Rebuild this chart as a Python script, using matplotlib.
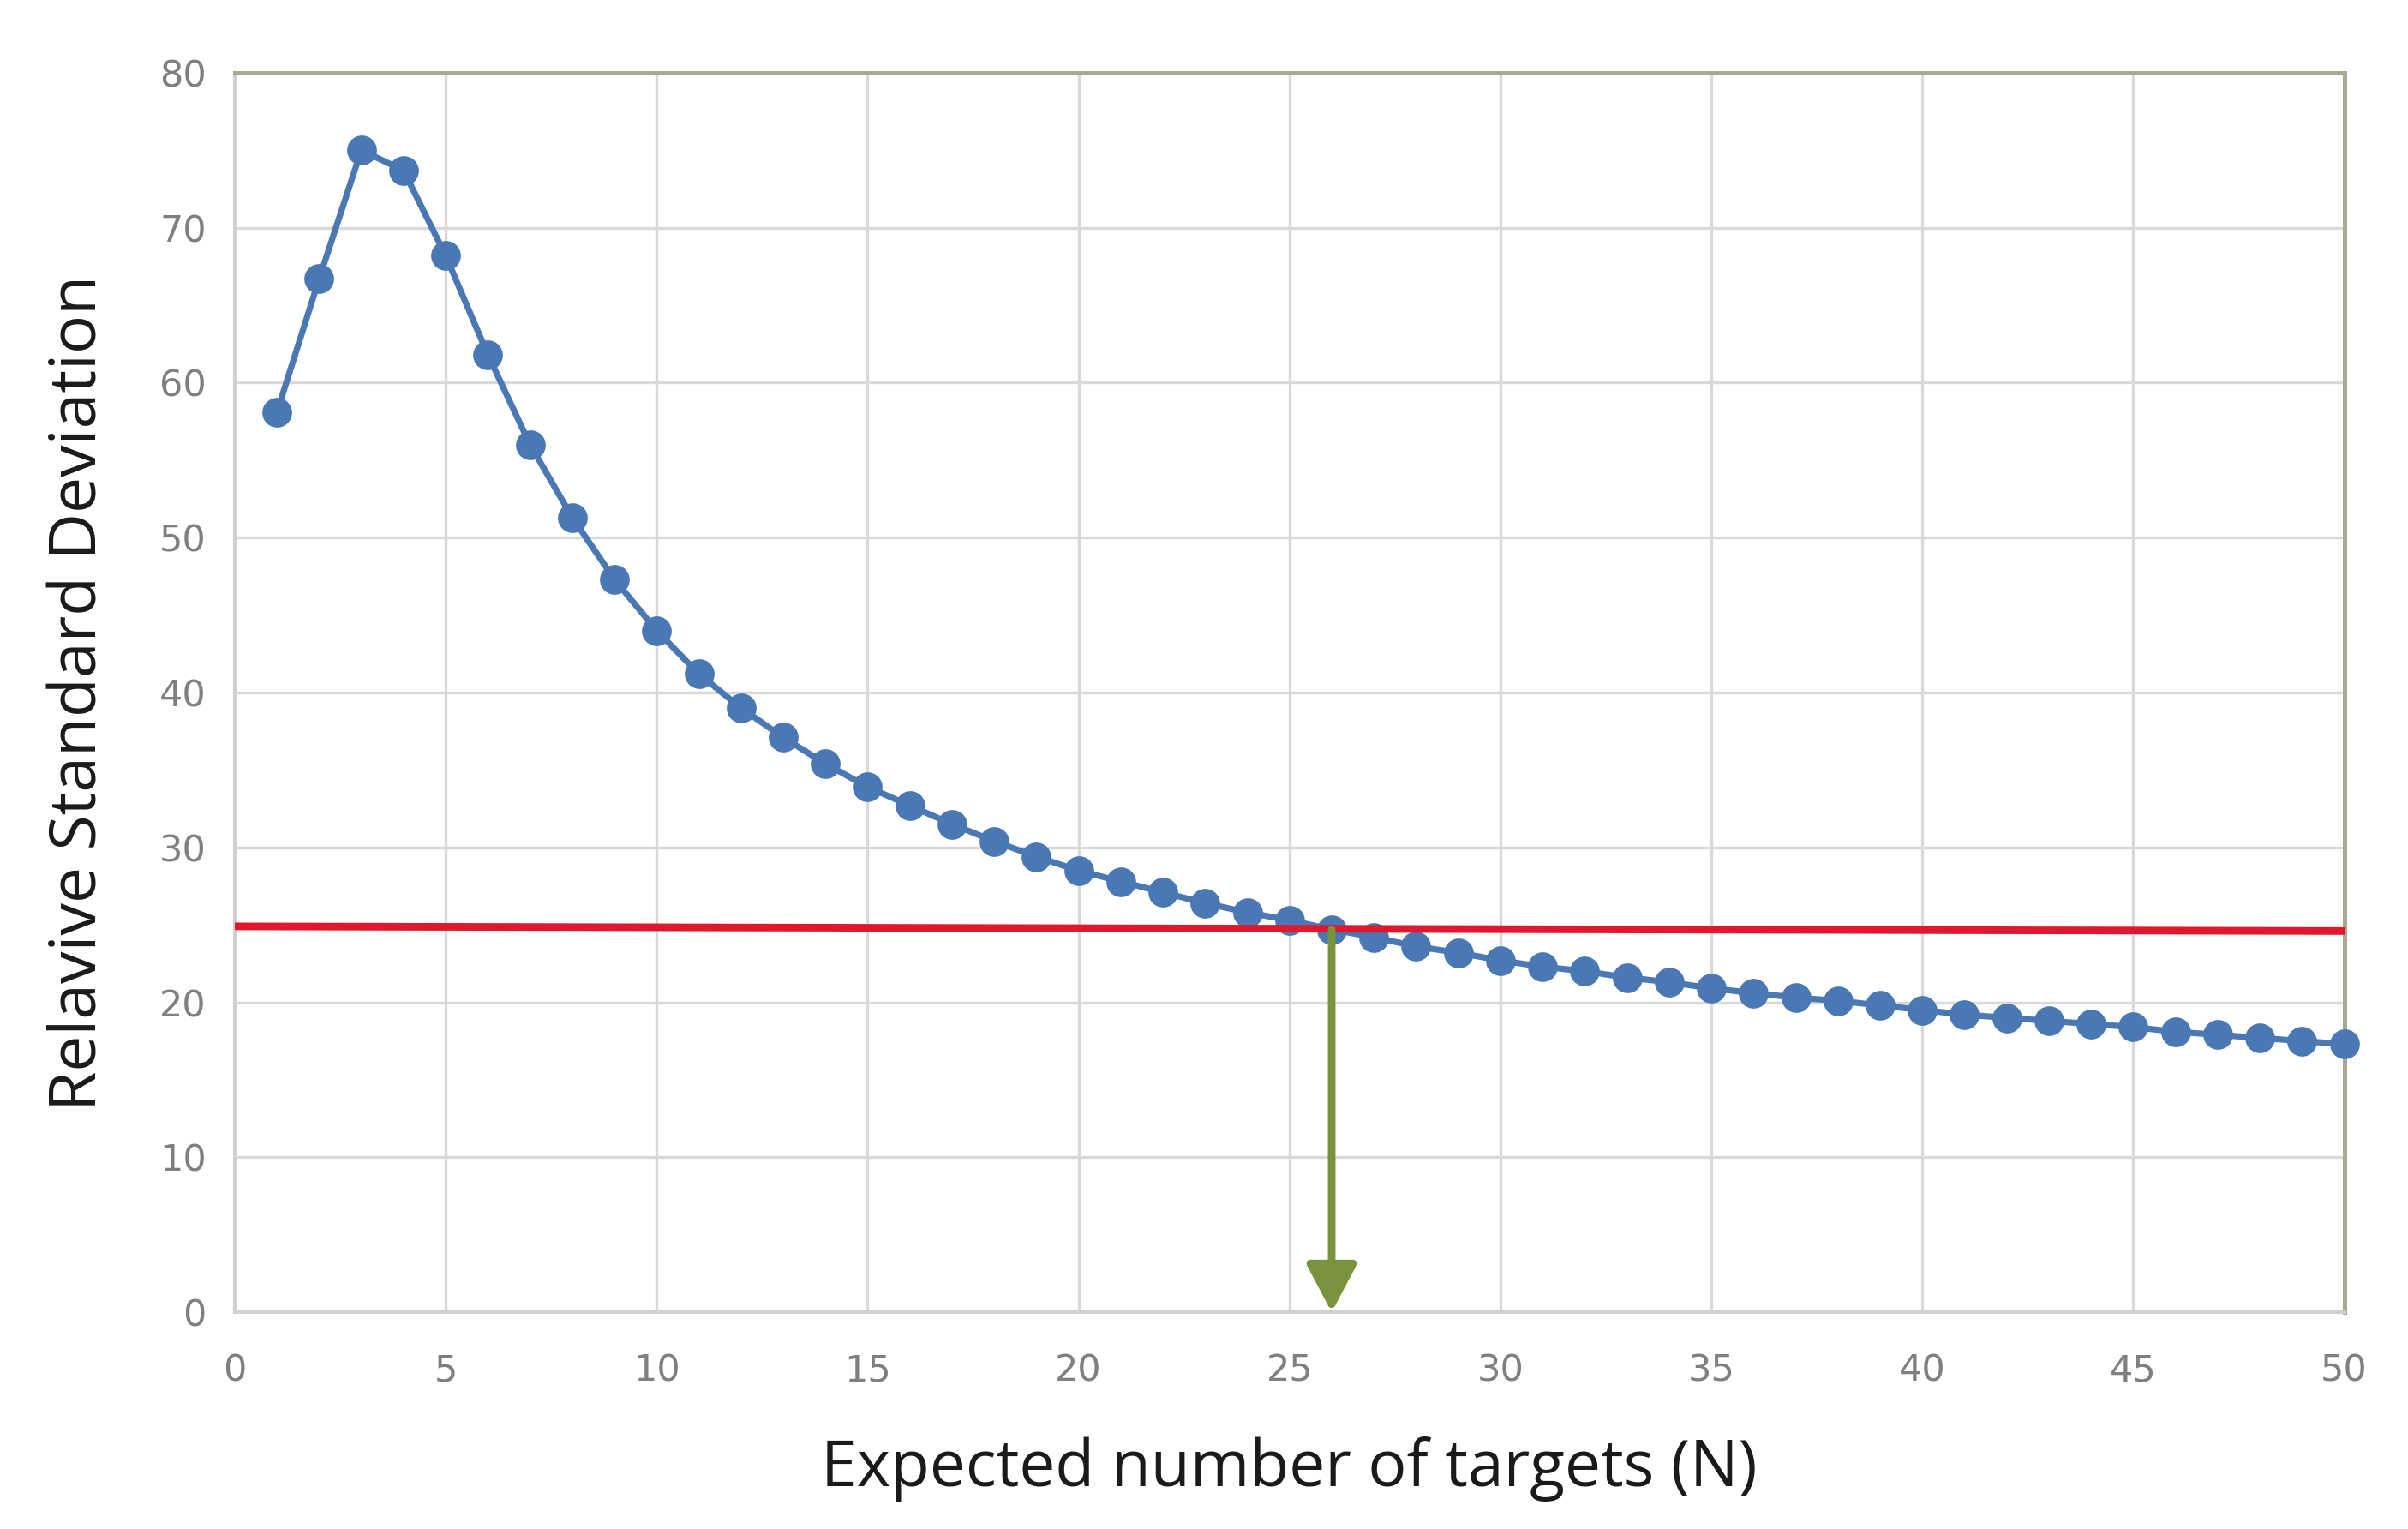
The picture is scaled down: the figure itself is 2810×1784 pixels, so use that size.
import matplotlib
matplotlib.use("Agg")
import matplotlib.pyplot as plt

# Data
n_targets = list(range(1, 51))
rsd = [58.1, 66.7, 75.0, 73.7, 68.2, 61.8, 56.0, 51.3, 47.3, 44.0,
       41.2, 39.0, 37.1, 35.4, 33.9, 32.7, 31.5, 30.4, 29.4, 28.5,
       27.8, 27.1, 26.4, 25.8, 25.3, 24.7, 24.2, 23.6, 23.2, 22.7,
       22.3, 22.0, 21.6, 21.3, 20.9, 20.6, 20.3, 20.1, 19.8, 19.5,
       19.2, 19.0, 18.8, 18.6, 18.4, 18.1, 17.9, 17.7, 17.5, 17.3]
threshold_x = [0, 50]
threshold_y = [24.9, 24.6]
arrow_x = 26
arrow_y_start = 24.7
arrow_y_end = 0
x_ticks = [0, 5, 10, 15, 20, 25, 30, 35, 40, 45, 50]
y_ticks = [0, 10, 20, 30, 40, 50, 60, 70, 80]

fig = plt.figure(figsize=(14.05, 8.92), dpi=200)
ax = fig.add_axes([0.0975, 0.1418, 0.9735 - 0.0975, 0.9524 - 0.1418])

ax.set_xlim(0, 50)
ax.set_ylim(0, 80)
ax.set_xticks(x_ticks)
ax.set_yticks(y_ticks)
ax.grid(True, color="#d9d9d9", linewidth=1.2, zorder=0)
ax.set_axisbelow(True)

ax.plot(n_targets, rsd, color="#4a78b5", linewidth=2.6, marker="o",
        markersize=11.5, markerfacecolor="#4a78b5", markeredgecolor="#4a78b5",
        zorder=3, clip_on=False)
ax.plot(threshold_x, threshold_y, color="#e0182d", linewidth=3.2, zorder=4)

ax.annotate("", xy=(arrow_x, arrow_y_end), xytext=(arrow_x, arrow_y_start),
            arrowprops=dict(arrowstyle="-|>,head_length=1.7,head_width=0.9",
                            color="#77933c", linewidth=3.2,
                            shrinkA=0, shrinkB=0),
            zorder=5)

for side in ["left", "bottom"]:
    ax.spines[side].set_color("#d0d0d0")
    ax.spines[side].set_linewidth(1.5)
for side in ["top", "right"]:
    ax.spines[side].set_color("#a8a890")
    ax.spines[side].set_linewidth(1.8)

ax.tick_params(axis="y", length=0, labelsize=15.5, labelcolor="#7f7f7f",
               pad=12)
ax.tick_params(axis="x", length=0, labelsize=15.5, labelcolor="#7f7f7f",
               pad=17)
for lab in ax.get_xticklabels() + ax.get_yticklabels():
    lab.set_family("DejaVu Sans")

ax.set_xlabel("Expected number of targets (N)", fontsize=27,
              family="Open Sans", color="#1a1a1a", labelpad=20)
ax.set_ylabel("Relavive Standard Deviation", fontsize=27,
              family="Open Sans", color="#1a1a1a", labelpad=20)

fig.savefig("out.png", dpi=200, facecolor="white")
